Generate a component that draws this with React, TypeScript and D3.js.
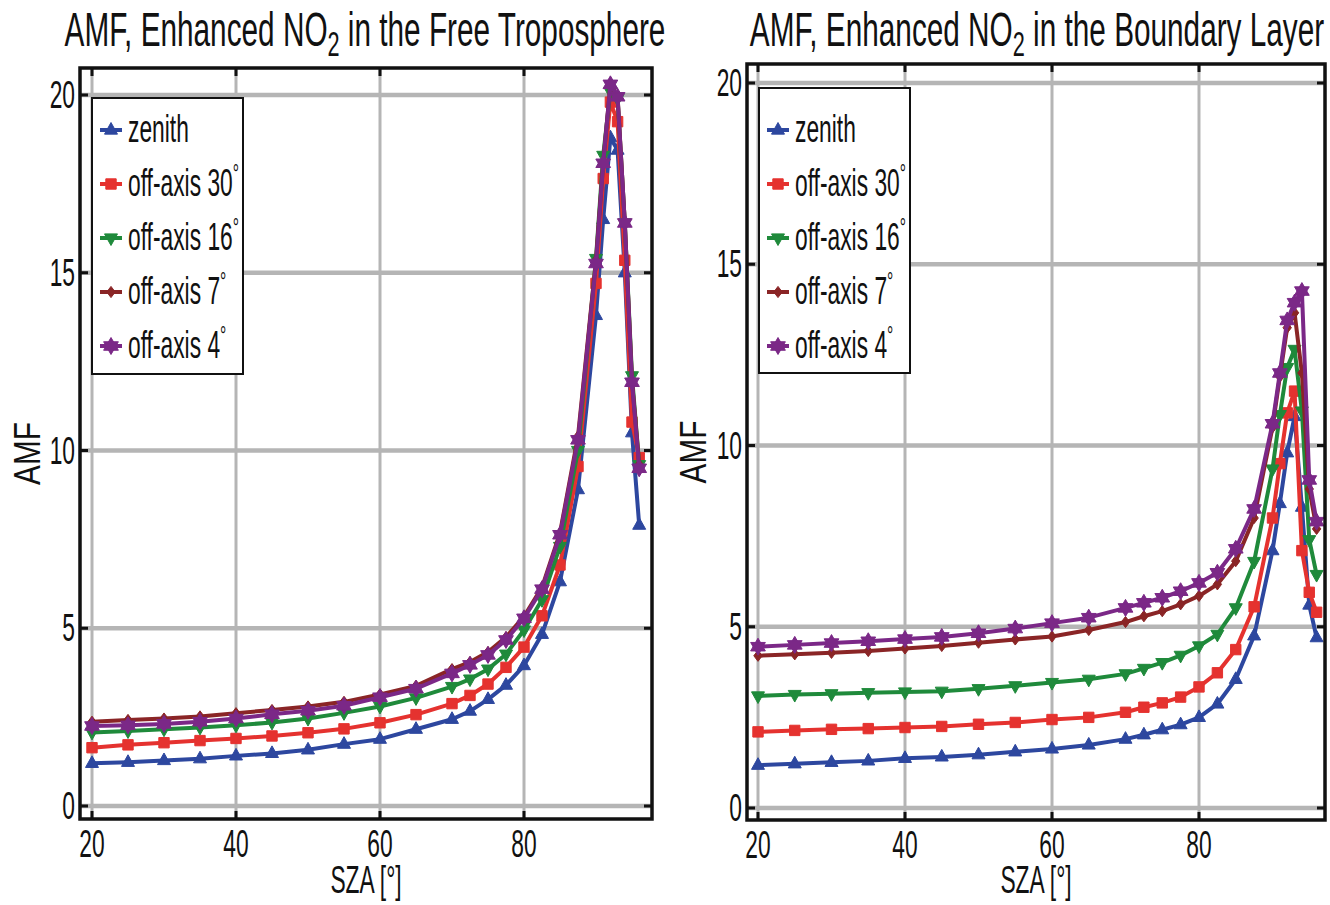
import React from 'react';
import * as d3 from 'd3';

// ---------- data ----------
const SZA = [20, 25, 30, 35, 40, 45, 50, 55, 60, 65, 70, 72.5, 75, 77.5, 80, 82.5, 85, 87.5, 90, 91, 92, 93, 94, 95, 96];
const SERIES_NAMES = ['zenith', 'off-axis 30', 'off-axis 16', 'off-axis 7', 'off-axis 4'];
const X_TICKS = [20, 40, 60, 80];
const Y_TICKS = [0, 5, 10, 15, 20];

// Free troposphere
const FT_ZENITH = [1.2, 1.23, 1.28, 1.33, 1.41, 1.48, 1.58, 1.74, 1.88, 2.16, 2.44, 2.67, 3.0, 3.4, 3.95, 4.83, 6.31, 8.9, 13.8, 16.5, 18.8, 18.45, 15.0, 10.5, 7.9];
const FT_OFF30 = [1.64, 1.72, 1.78, 1.84, 1.9, 1.97, 2.06, 2.17, 2.34, 2.57, 2.88, 3.11, 3.43, 3.9, 4.47, 5.35, 6.78, 9.55, 14.7, 17.65, 19.8, 19.25, 15.35, 10.8, 9.8];
const FT_OFF16 = [2.07, 2.11, 2.16, 2.21, 2.27, 2.35, 2.46, 2.62, 2.8, 3.04, 3.36, 3.57, 3.85, 4.27, 4.95, 5.8, 7.3, 10.0, 15.4, 18.3, 20.1, 19.9, 16.4, 12.1, 9.6];
const FT_OFF7 = [2.37, 2.42, 2.46, 2.52, 2.61, 2.7, 2.8, 2.93, 3.14, 3.38, 3.85, 4.05, 4.33, 4.75, 5.33, 6.15, 7.68, 10.4, 15.35, 18.1, 20.3, 19.95, 16.4, 11.95, 9.6];
const FT_OFF4 = [2.25, 2.27, 2.31, 2.37, 2.46, 2.58, 2.68, 2.82, 3.06, 3.3, 3.73, 3.97, 4.25, 4.67, 5.28, 6.1, 7.63, 10.3, 15.26, 18.08, 20.3, 19.95, 16.4, 11.92, 9.5];

// Boundary layer
const BL_ZENITH = [1.18, 1.22, 1.26, 1.3, 1.37, 1.41, 1.47, 1.55, 1.63, 1.74, 1.9, 2.02, 2.16, 2.3, 2.5, 2.87, 3.55, 4.75, 7.1, 8.4, 9.8, 10.8, 8.3, 5.6, 4.7];
const BL_OFF30 = [2.1, 2.14, 2.17, 2.19, 2.22, 2.25, 2.31, 2.36, 2.44, 2.5, 2.64, 2.78, 2.9, 3.06, 3.34, 3.73, 4.37, 5.55, 8.0, 9.5, 10.9, 11.5, 7.1, 5.95, 5.4];
const BL_OFF16 = [3.09, 3.13, 3.15, 3.18, 3.2, 3.22, 3.29, 3.37, 3.46, 3.55, 3.7, 3.85, 4.01, 4.21, 4.47, 4.79, 5.52, 6.8, 9.35, 10.85, 12.15, 12.65, 10.95, 7.4, 6.44];
const BL_OFF7 = [4.2, 4.24, 4.28, 4.33, 4.4, 4.47, 4.56, 4.65, 4.73, 4.91, 5.13, 5.29, 5.43, 5.62, 5.85, 6.17, 6.81, 8.0, 10.5, 11.9, 13.25, 13.66, 12.0, 8.8, 7.7];
const BL_OFF4 = [4.45, 4.5, 4.55, 4.6, 4.66, 4.72, 4.82, 4.95, 5.1, 5.25, 5.52, 5.66, 5.8, 5.98, 6.21, 6.49, 7.15, 8.25, 10.6, 12.0, 13.45, 13.94, 14.26, 9.05, 7.9];

const FT_SERIES = [FT_ZENITH, FT_OFF30, FT_OFF16, FT_OFF7, FT_OFF4];
const BL_SERIES = [BL_ZENITH, BL_OFF30, BL_OFF16, BL_OFF7, BL_OFF4];

// ---------- styles ----------
const COLORS = ['#2d479f', '#e5322f', '#1f8a3b', '#8a2526', '#7b2887'];
const SHAPES = ['triUp', 'square', 'triDown', 'diamond', 'hexagram'];
const SIZES = [7.5, 6.5, 7.5, 7, 8.5];
const FONT = "'Liberation Sans', Arial, Helvetica, sans-serif";
const SX = 0.6;

function markerPath(shape: string, s: number): string {
  const h = s * 0.866;
  switch (shape) {
    case 'triUp':
      return `M0,${-s} L${h},${s * 0.55} L${-h},${s * 0.55} Z`;
    case 'triDown':
      return `M0,${s} L${-h},${-s * 0.55} L${h},${-s * 0.55} Z`;
    case 'square':
      return `M${-s * 0.8},${-s * 0.8} H${s * 0.8} V${s * 0.8} H${-s * 0.8} Z`;
    case 'diamond':
      return `M0,${-s * 0.8} L${s * 0.6},0 L0,${s * 0.8} L${-s * 0.6},0 Z`;
    case 'hexagram':
    default:
      return `M0,${-s} L${h},${s * 0.5} L${-h},${s * 0.5} Z M0,${s} L${-h},${-s * 0.5} L${h},${-s * 0.5} Z`;
  }
}

function NText(props: any) {
  const { x, y, fs = 38, sx = SX, sy = 1, anchor = 'start', rotate = 0, children } = props;
  return (
    <text
      transform={`translate(${x},${y}) rotate(${rotate}) scale(${sx},${sy})`}
      fontSize={fs}
      fontFamily={FONT}
      textAnchor={anchor}
      fill="#111"
    >
      {children}
    </text>
  );
}

type PanelProps = {
  title: string;
  series: number[][];
  xr: [number, number];
  yr: [number, number];
  box: { x0: number; x1: number; y0: number; y1: number };
  legend: { x0: number; x1: number; y0: number; y1: number; rowY: number };
  titleX: number;
  ylabelX: number;
};

function Panel({ title, series, xr, yr, box, legend, titleX, ylabelX }: PanelProps) {
  const x = d3.scaleLinear().domain([20, 80]).range(xr);
  const y = d3.scaleLinear().domain([0, 20]).range(yr);
  const line = d3
    .line<number>()
    .x((_, i) => x(SZA[i]))
    .y((d) => y(d));
  const clipId = `clip-${titleX}`;
  return (
    <g>
      <defs>
        <clipPath id={clipId}>
          <rect x={box.x0} y={box.y0} width={box.x1 - box.x0} height={box.y1 - box.y0} />
        </clipPath>
      </defs>
      {/* grid */}
      {X_TICKS.map((t) => (
        <line key={'gx' + t} x1={x(t)} x2={x(t)} y1={box.y0} y2={box.y1} stroke="#b5b5b5" strokeWidth={3} />
      ))}
      {Y_TICKS.map((t) => (
        <line key={'gy' + t} x1={box.x0} x2={box.x1} y1={y(t)} y2={y(t)} stroke="#b5b5b5" strokeWidth={4.5} />
      ))}
      {/* series */}
      <g clipPath={`url(#${clipId})`}>
        {series.map((s, k) => (
          <g key={'s' + k}>
            <path d={line(s) || ''} fill="none" stroke={COLORS[k]} strokeWidth={4} strokeLinejoin="round" />
            {s.map((v, i) => (
              <path
                key={i}
                d={markerPath(SHAPES[k], SIZES[k])}
                transform={`translate(${x(SZA[i])},${y(v)})`}
                fill={COLORS[k]}
                stroke={COLORS[k]}
                strokeWidth={1}
              />
            ))}
          </g>
        ))}
      </g>
      {/* frame */}
      <rect x={box.x0} y={box.y0} width={box.x1 - box.x0} height={box.y1 - box.y0} fill="none" stroke="#111" strokeWidth={3.5} />
      {/* ticks */}
      {X_TICKS.map((t) => (
        <g key={'tx' + t}>
          <line x1={x(t)} x2={x(t)} y1={box.y1} y2={box.y1 - 8} stroke="#111" strokeWidth={3} />
          <line x1={x(t)} x2={x(t)} y1={box.y0} y2={box.y0 + 8} stroke="#111" strokeWidth={3} />
          <NText x={x(t)} y={box.y1 + 38} anchor="middle">{t}</NText>
        </g>
      ))}
      {Y_TICKS.map((t) => (
        <g key={'ty' + t}>
          <line x1={box.x0} x2={box.x0 + 8} y1={y(t)} y2={y(t)} stroke="#111" strokeWidth={3} />
          <line x1={box.x1} x2={box.x1 - 8} y1={y(t)} y2={y(t)} stroke="#111" strokeWidth={3} />
          <NText x={box.x0 - 5} y={y(t) + 13} anchor="end">{t}</NText>
        </g>
      ))}
      {/* axis labels */}
      <NText x={(box.x0 + box.x1) / 2} y={893} anchor="middle">SZA [°]</NText>
      <NText x={ylabelX} y={(box.y0 + box.y1) / 2 + 10} anchor="middle" rotate={-90} fs={32} sx={0.93} sy={1.15}>AMF</NText>
      {/* title */}
      <text transform={`translate(${titleX},46) scale(0.62,1)`} fontSize={48} fontFamily={FONT} textAnchor="middle" fill="#111">
        AMF, Enhanced NO
        <tspan fontSize={35} dy={10}>2</tspan>
        <tspan dy={-10}>{' in the ' + title}</tspan>
      </text>
      {/* legend */}
      <rect x={legend.x0} y={legend.y0} width={legend.x1 - legend.x0} height={legend.y1 - legend.y0} fill="#fff" stroke="#111" strokeWidth={2} />
      {SERIES_NAMES.map((n, k) => {
        const ly = legend.rowY + k * 54;
        const lx = legend.x0 + 8;
        return (
          <g key={'lg' + k}>
            <line x1={lx} x2={lx + 22} y1={ly} y2={ly} stroke={COLORS[k]} strokeWidth={4} />
            <path d={markerPath(SHAPES[k], SIZES[k])} transform={`translate(${lx + 11},${ly})`} fill={COLORS[k]} stroke={COLORS[k]} />
            <NText x={lx + 28} y={ly + 12}>
              {n}
              {k > 0 ? <tspan fontSize={26} dy={-14}>°</tspan> : null}
            </NText>
          </g>
        );
      })}
    </g>
  );
}

export default function App() {
  return (
    <svg width={1330} height={905} style={{ position: 'absolute', left: 0, top: 0, background: '#fff' }}>
      <rect width={1330} height={905} fill="#fff" />
      <Panel
        title="Free Troposphere"
        series={FT_SERIES}
        xr={[92, 524]}
        yr={[806, 95]}
        box={{ x0: 80, x1: 652, y0: 68, y1: 819 }}
        legend={{ x0: 92, x1: 243, y0: 98, y1: 374, rowY: 130 }}
        titleX={365}
        ylabelX={40}
      />
      <Panel
        title="Boundary Layer"
        series={BL_SERIES}
        xr={[758, 1199]}
        yr={[808, 83]}
        box={{ x0: 747, x1: 1325, y0: 64, y1: 820 }}
        legend={{ x0: 759, x1: 910, y0: 88, y1: 373, rowY: 130 }}
        titleX={1037}
        ylabelX={706}
      />
    </svg>
  );
}
